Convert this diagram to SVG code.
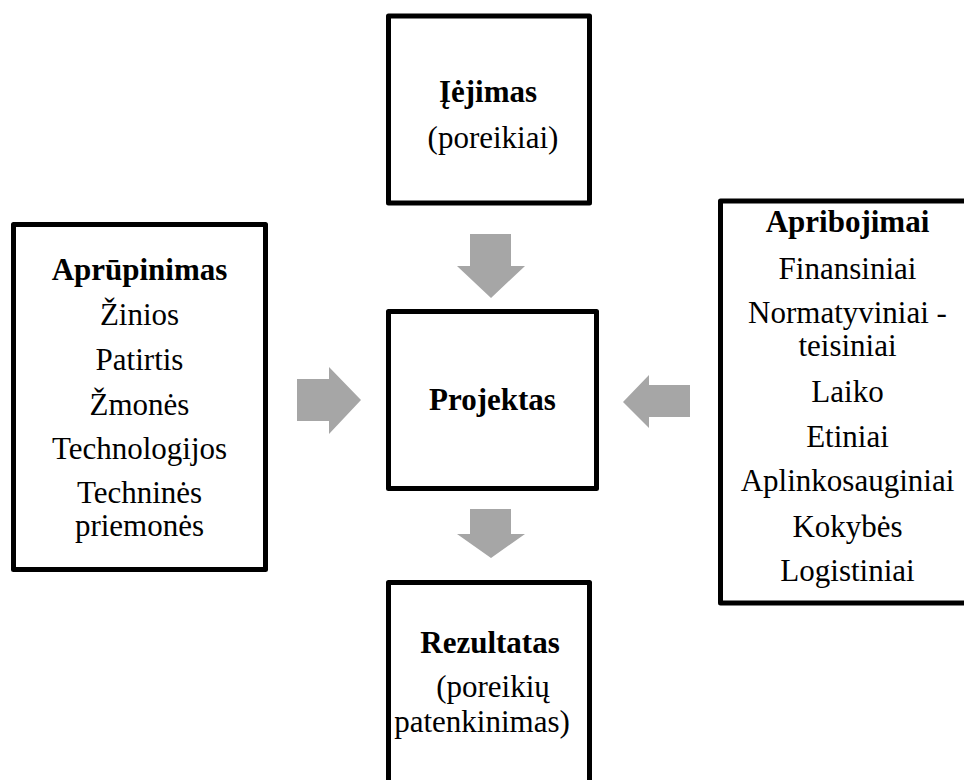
<svg xmlns="http://www.w3.org/2000/svg" width="964" height="780" viewBox="0 0 964 780">
  <style>
    .box { fill: #ffffff; stroke: #000000; stroke-width: 5; stroke-linejoin: round; }
    .arrow { fill: #a6a6a6; stroke: none; }
    .t { font-family: "Times New Roman", "Liberation Serif", Tinos, serif; font-size: 31px; fill: #000000; text-anchor: middle; }
    .b { font-weight: bold; }
  </style>
  <rect width="964" height="780" fill="#ffffff"/>

  <!-- connectors: block arrows into and out of the project -->
  <g id="connectors">
    <polygon class="arrow" points="470,234 511,234 511,266 525,266 491,298 457,266 470,266"/>
    <polygon class="arrow" points="470,509 511,509 511,534 525,534 491,558 457,534 470,534"/>
    <polygon class="arrow" points="297,379 329,379 329,367 361,400 329,434 329,421 297,421"/>
    <polygon class="arrow" points="690,385 649,385 649,375 623,402 649,428 649,417 690,417"/>
  </g>

  <g id="ieejimas">
    <rect class="box" x="388.5" y="16" width="201" height="187"/>
    <text class="t b" x="488" y="102">Įėjimas</text>
    <text class="t" x="493" y="148">(poreikiai)</text>
  </g>

  <g id="aprupinimas">
    <rect class="box" x="13.5" y="224.5" width="252" height="345"/>
    <text class="t b" x="139.5" y="280">Aprūpinimas</text>
    <text class="t" x="139.5" y="325">Žinios</text>
    <text class="t" x="139.5" y="370">Patirtis</text>
    <text class="t" x="139.5" y="415">Žmonės</text>
    <text class="t" x="139.5" y="459">Technologijos</text>
    <text class="t" x="139.5" y="503">Techninės</text>
    <text class="t" x="139.5" y="536">priemonės</text>
  </g>

  <g id="projektas">
    <rect class="box" x="388.5" y="311.5" width="208" height="177"/>
    <text class="t b" x="492.5" y="410">Projektas</text>
  </g>

  <g id="apribojimai">
    <rect class="box" x="720.5" y="201" width="254" height="402"/>
    <text class="t b" x="847.5" y="232">Apribojimai</text>
    <text class="t" x="847.5" y="279">Finansiniai</text>
    <text class="t" x="847.5" y="323">Normatyviniai -</text>
    <text class="t" x="847.5" y="356">teisiniai</text>
    <text class="t" x="847.5" y="402">Laiko</text>
    <text class="t" x="847.5" y="447">Etiniai</text>
    <text class="t" x="847.5" y="491">Aplinkosauginiai</text>
    <text class="t" x="847.5" y="537">Kokybės</text>
    <text class="t" x="847.5" y="581">Logistiniai</text>
  </g>

  <g id="rezultatas">
    <rect class="box" x="388.5" y="582.5" width="201" height="210"/>
    <text class="t b" x="490" y="653">Rezultatas</text>
    <text class="t" x="493" y="697">(poreikių</text>
    <text class="t" x="482" y="732">patenkinimas)</text>
  </g>
</svg>
